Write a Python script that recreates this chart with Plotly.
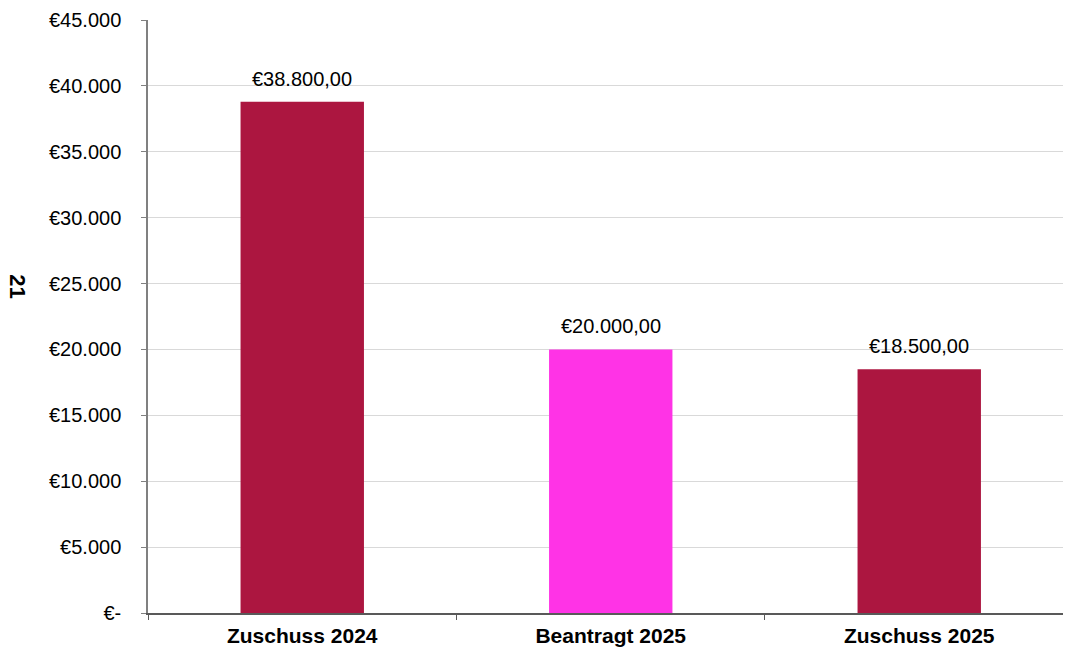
import plotly.graph_objects as go

categories = ["Zuschuss 2024", "Beantragt 2025", "Zuschuss 2025"]
values = [38800, 20000, 18500]
bar_colors = ["#AC1640", "#FF33E6", "#AC1640"]
y_tickvals = [0, 5000, 10000, 15000, 20000, 25000, 30000, 35000, 40000, 45000]
y_ticktext = ["€-", "€5.000", "€10.000", "€15.000", "€20.000", "€25.000",
              "€30.000", "€35.000", "€40.000", "€45.000"]
y_title = "21"


def de_fmt(v):
    s = f"{v:,.2f}"
    s = s.replace(",", "X").replace(".", ",").replace("X", ".")
    return "€" + s


FONT = "Liberation Sans, Arial, sans-serif"

fig = go.Figure(go.Bar(
    x=categories,
    y=values,
    marker=dict(color=bar_colors, line=dict(width=0)),
    width=0.4,
    hoverinfo="x+y",
))

label_annotations = [
    dict(x=c, y=v, xref="x", yref="y", text=de_fmt(v), showarrow=False,
         xanchor="center", yanchor="bottom", yshift=10,
         font=dict(family=FONT, size=20, color="#000000"))
    for c, v in zip(categories, values)
]

fig.update_layout(
    width=1065, height=650,
    margin=dict(l=148, r=2, t=20, b=37, autoexpand=False),
    paper_bgcolor="white", plot_bgcolor="white",
    showlegend=False,
    font=dict(family=FONT, size=20, color="#000000"),
    xaxis=dict(
        range=[-0.5, 2.466],
        showline=True, linecolor="#595959", linewidth=1.5,
        ticks="outside", tickson="boundaries", ticklen=5, tickcolor="#595959",
        tickfont=dict(family=FONT, size=21, color="#000000", weight="bold"),
        ticklabelstandoff=3,
        showgrid=False,
    ),
    yaxis=dict(
        range=[0, 45000],
        tickvals=y_tickvals, ticktext=y_ticktext,
        showline=True, linecolor="#808080", linewidth=1.5,
        ticks="outside", ticklen=5, tickcolor="#808080",
        tickfont=dict(family=FONT, size=20, color="#000000"),
        ticklabelstandoff=16,
        showgrid=True, gridcolor="#d9d9d9", gridwidth=1,
        zeroline=False,
    ),
    annotations=label_annotations + [dict(
        text="<b>" + y_title + "</b>", xref="paper", yref="paper",
        x=-0.142, y=0.551, xanchor="center", yanchor="middle",
        textangle=90, showarrow=False,
        font=dict(family=FONT, size=22, color="#000000"),
    )],
)

fig.write_html(
    "out.html",
    config={"displayModeBar": False},
    post_script="document.body.style.margin='0';document.body.style.overflow='hidden';",
)
